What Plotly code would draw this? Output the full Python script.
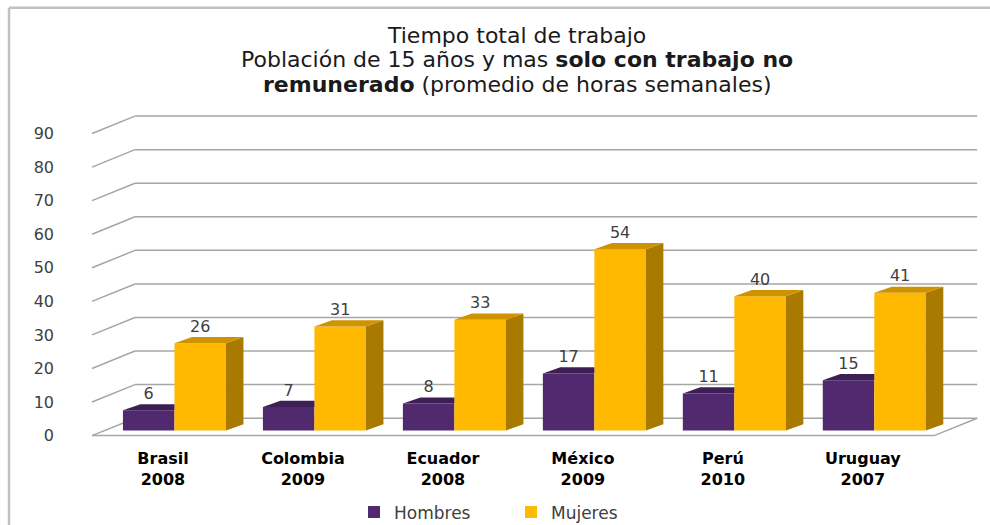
import plotly.graph_objects as go

categories = ["Brasil<br>2008", "Colombia<br>2009", "Ecuador<br>2008",
              "México<br>2009", "Perú<br>2010", "Uruguay<br>2007"]
hombres = [6, 7, 8, 17, 11, 15]
mujeres = [26, 31, 33, 54, 40, 41]
y_ticks = [0, 10, 20, 30, 40, 50, 60, 70, 80, 90]
title_lines = ["Tiempo total de trabajo",
               "Población de 15 años y mas <b>solo con trabajo no</b>",
               "<b>remunerado</b> (promedio de horas semanales)"]

# 3D look parameters (axis units)
BAR_W = 0.368
SHIFT_X, SHIFT_Y = 0.082, 1.53      # bar plane offset from front plane
DEP_X, DEP_Y = 0.125, 1.85          # bar depth
WALL_X, WALL_Y = 0.307, 5.19        # back wall offset from front plane
X_LEFT, X_RIGHT = -0.507, 5.51

C_H_FRONT, C_H_TOP, C_H_SIDE = "#51296f", "#3d1f55", "#35194a"
C_M_FRONT, C_M_TOP, C_M_SIDE = "#ffb901", "#cf9300", "#a87a00"
GRID = "#a6a6a6"

idx = list(range(len(categories)))
xh = [i + SHIFT_X - BAR_W / 2 for i in idx]
xm = [i + SHIFT_X + BAR_W / 2 for i in idx]

fig = go.Figure()

# front faces
fig.add_trace(go.Bar(x=xh, y=hombres, base=SHIFT_Y, width=BAR_W, name="Hombres",
                     marker=dict(color=C_H_FRONT, line=dict(width=0)), hoverinfo="skip"))
fig.add_trace(go.Bar(x=xm, y=mujeres, base=SHIFT_Y, width=BAR_W, name="Mujeres",
                     marker=dict(color=C_M_FRONT, line=dict(width=0)), hoverinfo="skip"))

def poly(xs, ys, color):
    fig.add_trace(go.Scatter(x=xs + [xs[0]], y=ys + [ys[0]], mode="lines", fill="toself",
                             fillcolor=color, line=dict(width=0, color=color),
                             showlegend=False, hoverinfo="skip"))

for i in idx:
    # Hombres top (clipped by Mujeres front face)
    h = hombres[i] + SHIFT_Y
    x0, x1 = xh[i] - BAR_W / 2, xh[i] + BAR_W / 2
    poly([x0, x1, x1, x0 + DEP_X], [h, h, h + DEP_Y, h + DEP_Y], C_H_TOP)
    # Mujeres side and top
    m = mujeres[i] + SHIFT_Y
    a, b = xm[i] - BAR_W / 2, xm[i] + BAR_W / 2
    poly([b, b + DEP_X, b + DEP_X, b], [SHIFT_Y, SHIFT_Y + DEP_Y, m + DEP_Y, m], C_M_SIDE)
    poly([a, b, b + DEP_X, a + DEP_X], [m, m, m + DEP_Y, m + DEP_Y], C_M_TOP)

# data labels
lab_font = dict(family="DejaVu Sans", size=16, color="#404040")
fig.add_trace(go.Scatter(x=xh, y=[v + SHIFT_Y + 4.6 for v in hombres], mode="text",
                         text=[str(v) for v in hombres], textfont=lab_font,
                         showlegend=False, hoverinfo="skip"))
fig.add_trace(go.Scatter(x=xm, y=[v + SHIFT_Y + 4.6 for v in mujeres], mode="text",
                         text=[str(v) for v in mujeres], textfont=lab_font,
                         showlegend=False, hoverinfo="skip"))

# gridlines: left wall obliques + back wall horizontals
shapes = []
for t in y_ticks:
    shapes.append(dict(type="line", xref="x", yref="y", layer="below",
                       x0=X_LEFT, y0=t, x1=X_LEFT + WALL_X, y1=t + WALL_Y,
                       line=dict(color=GRID, width=1.5)))
    shapes.append(dict(type="line", xref="x", yref="y", layer="below",
                       x0=X_LEFT + WALL_X, y0=t + WALL_Y, x1=X_RIGHT + WALL_X, y1=t + WALL_Y,
                       line=dict(color=GRID, width=1.5)))
# floor front and right edges
shapes.append(dict(type="line", xref="x", yref="y", layer="below",
                   x0=X_LEFT, y0=0, x1=X_RIGHT, y1=0, line=dict(color=GRID, width=1.5)))
shapes.append(dict(type="line", xref="x", yref="y", layer="below",
                   x0=X_RIGHT, y0=0, x1=X_RIGHT + WALL_X, y1=WALL_Y,
                   line=dict(color=GRID, width=1.5)))
# chart border (top and left)
shapes.append(dict(type="line", xref="paper", yref="paper", x0=-0.0862, y0=1.287, x1=1.02, y1=1.287,
                   line=dict(color="#c0c0c0", width=2.5)))
shapes.append(dict(type="line", xref="paper", yref="paper", x0=-0.0862, y0=1.287, x1=-0.0862, y1=-0.3,
                   line=dict(color="#c0c0c0", width=2.5)))

# title as three lines with the reference's tight line spacing
title_y = [1.206, 1.1334, 1.061]
annotations = [dict(text=t, x=0.4826, y=y, xref="paper", yref="paper", xanchor="center",
                    yanchor="middle", showarrow=False,
                    font=dict(family="DejaVu Sans", size=22, color="#1a1a1a"))
               for t, y in zip(title_lines, title_y)]

W, H = 990, 541
fig.update_layout(
    width=W, height=H,
    margin=dict(l=86, r=11, t=105.4, b=94.5),
    paper_bgcolor="white", plot_bgcolor="white",
    barmode="overlay",
    xaxis=dict(range=[-0.55, 5.83], tickvals=idx,
               ticktext=["<b>" + c + "</b>" for c in categories],
               tickfont=dict(family="DejaVu Sans", size=16, color="#000000"),
               showgrid=False, zeroline=False, showline=False, ticks="",
               ticklabelstandoff=3, fixedrange=True, automargin=False),
    yaxis=dict(range=[-2.5, 98.5], tickvals=y_ticks,
               tickfont=dict(family="DejaVu Sans", size=16, color="#404040"),
               showgrid=False, zeroline=False, showline=False, ticks="",
               ticklabelstandoff=31, fixedrange=True, automargin=False),
    legend=dict(orientation="h", x=(354 - 86) / 893, xanchor="left", y=-0.202, yanchor="middle",
                font=dict(family="DejaVu Sans", size=17, color="#404040"),
                entrywidth=112, entrywidthmode="pixels", traceorder="normal"),
    shapes=shapes,
    annotations=annotations,
)

fig.write_html(
    "out.html",
    config={"displayModeBar": False},
    post_script="document.body.style.margin='0';document.body.style.overflow='hidden';"
                "document.documentElement.style.overflow='hidden';",
)
